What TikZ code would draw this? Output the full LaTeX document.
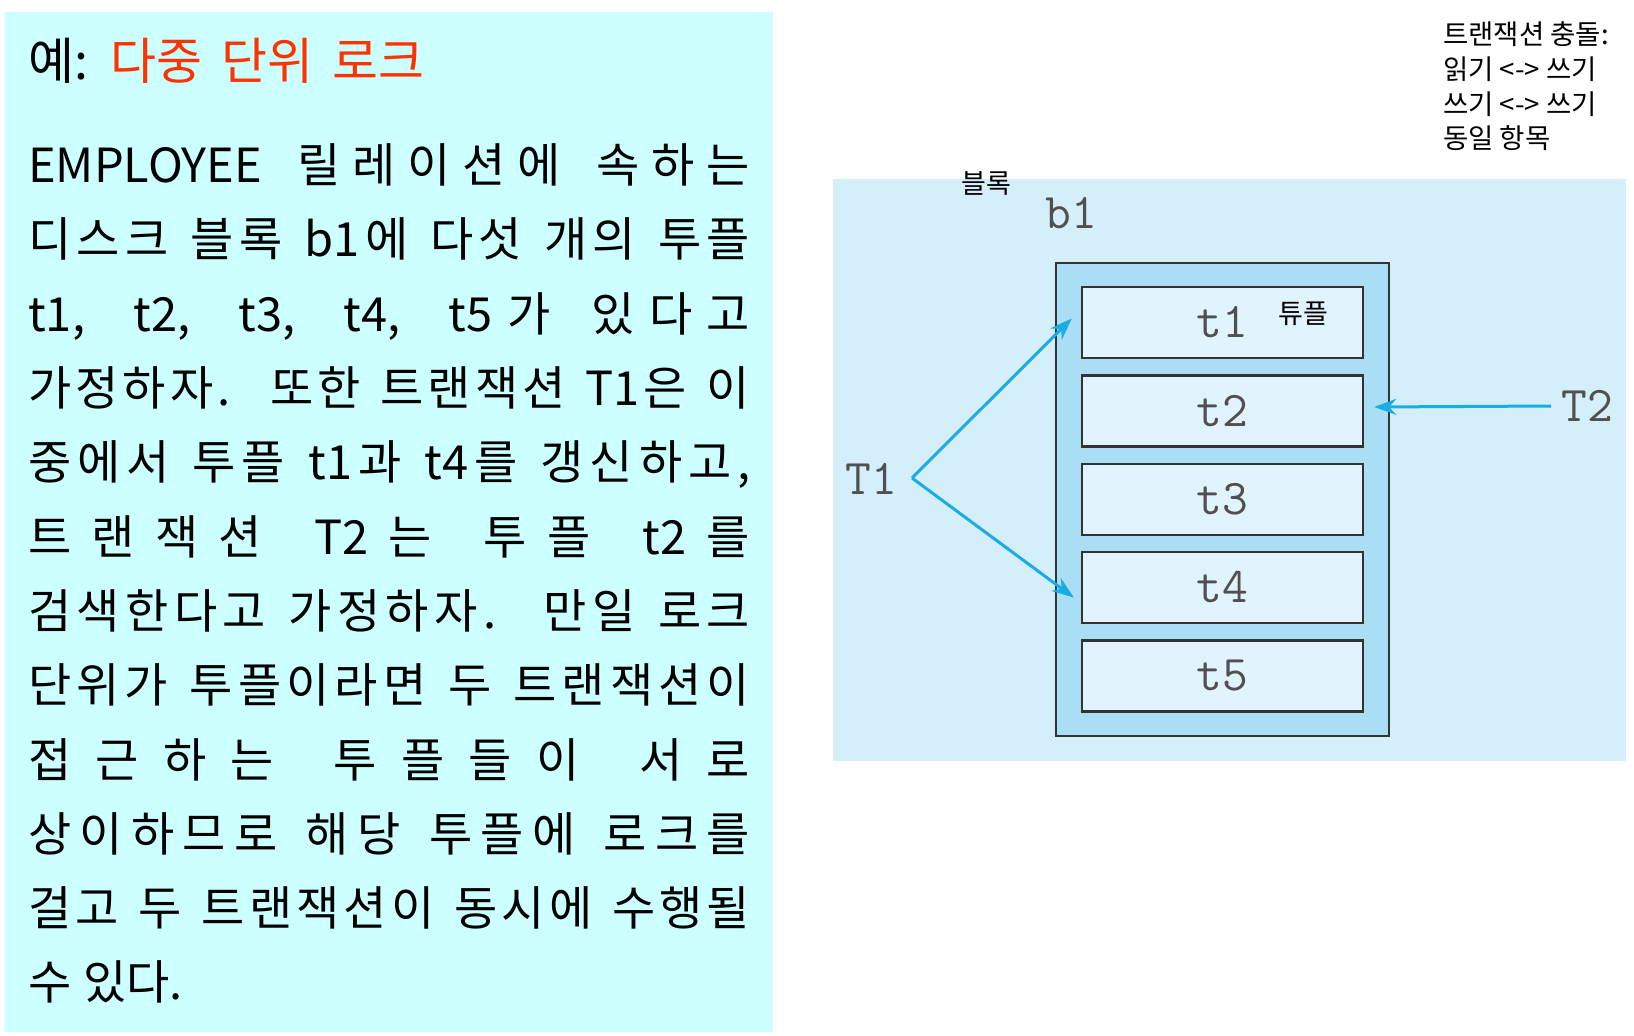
\documentclass[tikz,border=0pt]{standalone}
\usepackage{fontspec}
\setmainfont{Noto Sans CJK KR}
\usetikzlibrary{arrows.meta}
\XeTeXinterchartokenstate=1
\count255="AC00
\loop\ifnum\count255<"D7A4
  \XeTeXcharclass\count255=7
  \advance\count255 by 1
\repeat
\XeTeXinterchartoks 7 7 = {\hskip 0pt plus 0.25em\relax}
\XeTeXinterchartoks 0 7 = {\hskip 0pt plus 0.25em\relax}
\XeTeXinterchartoks 7 0 = {\hskip 0pt plus 0.25em\relax}
\newcommand\mybodyfont{\fontsize{47}{47}\selectfont\spaceskip=0.25em plus 0.5em\relax}
\newcommand\mytitlefont{\fontsize{50}{50}\selectfont\spaceskip=0.38em\relax}
\definecolor{panelcyan}{HTML}{CCFFFF}
\definecolor{titlered}{HTML}{FF3300}
\definecolor{outerblue}{HTML}{D4EEFA}
\definecolor{blockblue}{HTML}{A9DEF5}
\definecolor{tuplefill}{HTML}{E1F3FC}
\definecolor{arrowblue}{HTML}{1AADE5}
\definecolor{labelgray}{HTML}{505050}
\definecolor{edgegray}{HTML}{333333}
\tikzset{
  bodytext/.style={font=\mybodyfont, inner sep=0pt, anchor=base west},
  titletext/.style={font=\mytitlefont, inner sep=0pt, anchor=base west},
  ttlabel/.style={font=\ttfamily\fontsize{50}{50}\selectfont, text=labelgray, inner sep=0pt},
  smalllabel/.style={font=\fontsize{27}{27}\selectfont, inner sep=0pt},
  notetext/.style={font=\fontsize{27.5}{27.5}\selectfont, inner sep=0pt, anchor=base west},
  tuplebox/.style={draw=edgegray, line width=2.5pt, fill=tuplefill, minimum width=281pt, minimum height=71pt, inner sep=0pt, ttlabel},
  arr/.style={draw=arrowblue, line width=3pt, -{Stealth[length=22pt, width=16pt]}}
}
\begin{document}
\begin{tikzpicture}[x=1pt, y=-1pt]
\useasboundingbox (0,0) rectangle (1634,1036);
\fill[white] (0,0) rectangle (1634,1036);
% left panel
\node[fill=panelcyan, minimum width=768pt, minimum height=1020pt, inner sep=0pt] (panel) at (389,522) {};
\node[titletext] (title) at (28,79) {예: \textcolor{titlered}{다중 단위 로크}};
\node[bodytext] (l1) at (28,182.6) {\hbox to 722pt{EMPLOYEE 릴레이션에 속하는}};
\node[bodytext] (l2) at (28,256.9) {\hbox to 722pt{디스크 블록 b1에 다섯 개의 투플}};
\node[bodytext] (l3) at (28,331.2) {\hbox to 722pt{t1, t2, t3, t4, t5가 있다고}};
\node[bodytext] (l4) at (28,405.5) {\hbox to 722pt{가정하자. 또한 트랜잭션 T1은 이}};
\node[bodytext] (l5) at (28,479.8) {\hbox to 722pt{중에서 투플 t1과 t4를 갱신하고,}};
\node[bodytext] (l6) at (28,554.1) {\hbox to 722pt{트랜잭션 T2는 투플 t2를}};
\node[bodytext] (l7) at (28,628.4) {\hbox to 722pt{검색한다고 가정하자. 만일 로크}};
\node[bodytext] (l8) at (28,702.7) {\hbox to 722pt{단위가 투플이라면 두 트랜잭션이}};
\node[bodytext] (l9) at (28,777.0) {\hbox to 722pt{접근하는 투플들이 서로}};
\node[bodytext] (l10) at (28,851.3) {\hbox to 722pt{상이하므로 해당 투플에 로크를}};
\node[bodytext] (l11) at (28,925.6) {\hbox to 722pt{걸고 두 트랜잭션이 동시에 수행될}};
\node[bodytext] (l12) at (28,999.9) {\hbox to 722pt{수 있다.\hfil}};
% diagram
\node[fill=outerblue, minimum width=793pt, minimum height=582pt, inner sep=0pt] (outer) at (1229.5,470) {};
\node[fill=blockblue, draw=edgegray, line width=2.5pt, minimum width=333pt, minimum height=473pt, inner sep=0pt] (block) at (1222.5,499.5) {};
\node[tuplebox] (t1) at (1222.5,322.5) {t1};
\node[tuplebox] (t2) at (1222.5,411) {t2};
\node[tuplebox] (t3) at (1222.5,499.5) {t3};
\node[tuplebox] (t4) at (1222.5,587.5) {t4};
\node[tuplebox] (t5) at (1222.5,676) {t5};
\node[ttlabel] (b1) at (1071,213) {b1};
\node[ttlabel] (T1) at (871,479) {T1};
\node[ttlabel] (T2) at (1587,406) {T2};
\node[smalllabel] (blk) at (986,183) {블록};
\node[smalllabel] (tup) at (1303,314) {튜플};
\coordinate (apex) at (912,478);
\draw[arr] (apex) -- ([shift={(-9,-4)}]t1.west);
\draw[arr] (apex) -- ([shift={(-7,10)}]t4.west);
\draw[arr] ([xshift=-10pt]T2.west) -- ([shift={(10,-4)}]t2.east);
% note
\node[notetext] (c1) at (1443,45) {트랜잭션 충돌:};
\node[notetext] (c2) at (1443,79.5) {읽기 <-> 쓰기};
\node[notetext] (c3) at (1443,114) {쓰기 <-> 쓰기};
\node[notetext] (c4) at (1443,148.5) {동일 항목};
\end{tikzpicture}
\end{document}
